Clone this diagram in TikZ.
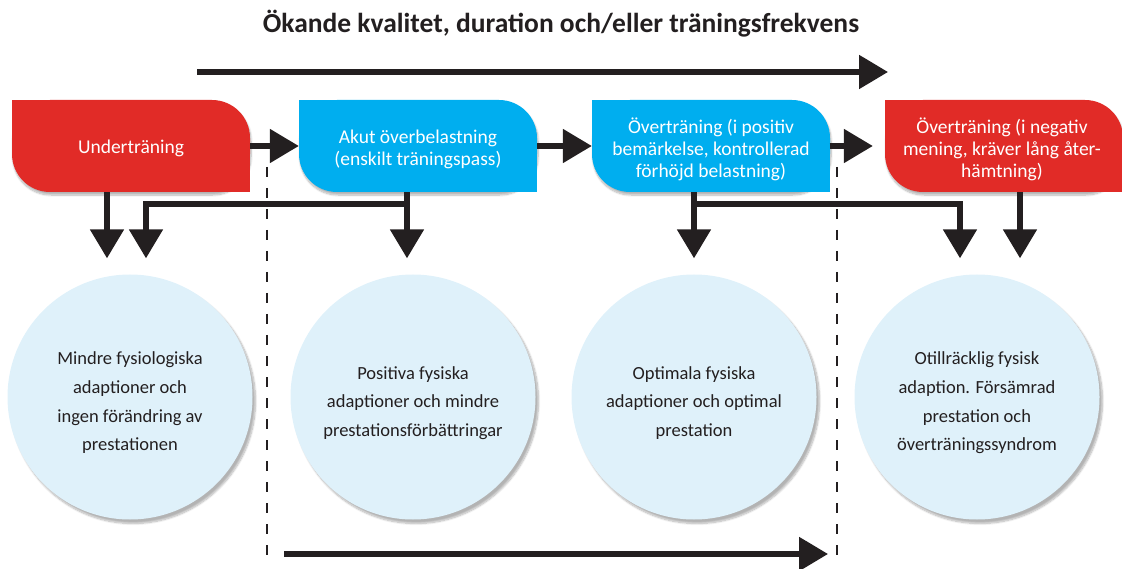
\documentclass[tikz,border=0pt]{standalone}
\usepackage{fontspec}
\setmainfont{Carlito}
\usetikzlibrary{arrows.meta}
\usetikzlibrary{shadows.blur}
\definecolor{stagered}{HTML}{E12B27}
\definecolor{stageblue}{HTML}{00AEEF}
\definecolor{resultfill}{HTML}{DFF1FA}
\definecolor{ink}{HTML}{231F20}
\tikzset{
	edge/.style={-{Triangle[length=29pt, width=33pt]}, line width=5.3pt, draw=ink}
}
\tikzset{
	%	stage boxes: rounded top right and bottom left
	stagebox/.style={rectangle, minimum width=238pt, minimum height=92pt, inner sep=0pt, rounded corners=38pt,
		blur shadow={shadow xshift=1pt, shadow yshift=-3pt, shadow blur steps=8, shadow opacity=30}},
	stagetext/.style={text=white, align=center, font=\fontsize{19.5}{22}\selectfont},
	result/.style={circle, minimum size=245pt, inner sep=0pt, fill=resultfill,
		blur shadow={shadow xshift=3pt, shadow yshift=-4pt, shadow blur steps=8, shadow opacity=30}},
	resulttext/.style={text=ink, align=center, font=\fontsize{18.5}{28.7}\selectfont},
	phase/.style={draw=ink, line width=2.6pt, dash pattern=on 10pt off 11pt}
}

\begin{document}
\begin{tikzpicture}[x=1pt, y=-1pt]
\useasboundingbox (0,0) rectangle (1122,569);

\node[font=\bfseries\fontsize{27.5}{30}\selectfont, text=ink, anchor=base] (title) at (561,33) {Ökande kvalitet, duration och/eller träningsfrekvens};
\coordinate (topstart) at (197,72);
\coordinate (topend) at (888,72);
\draw[edge] (topstart) -- (topend);

% boxes
\node[stagebox, fill=stagered] (under) at (131,146) {};
\fill[stagered] (under.north west) rectangle (under.center);
\fill[stagered] (under.center) rectangle (under.south east);
\node[stagetext] (underT) at (131,148) {Underträning};

\node[stagebox, fill=stageblue] (akut) at (418,146) {};
\fill[stageblue] (akut.north west) rectangle (akut.center);
\fill[stageblue] (akut.center) rectangle (akut.south east);
\node[stagetext] (akutT) at (418,149) {Akut överbelastning\\(enskilt träningspass)};

\node[stagebox, fill=stageblue] (pos) at (711,146) {};
\fill[stageblue] (pos.north west) rectangle (pos.center);
\fill[stageblue] (pos.center) rectangle (pos.south east);
\node[stagetext] (posT) at (711,149) {Överträning (i positiv\\bemärkelse, kontrollerad\\förhöjd belastning)};

\node[stagebox, fill=stagered] (neg) at (1004,146) {};
\fill[stagered] (neg.north west) rectangle (neg.center);
\fill[stagered] (neg.center) rectangle (neg.south east);
\node[stagetext] (negT) at (1002,149) {Överträning (i negativ\\mening, kräver lång åter-\\hämtning)};

% outcomes
\node[result] (mindre) at (130,397) {};
\node[resulttext] (mindreT) at (130,403) {Mindre fysiologiska\\adaptioner och\\ingen förändring av\\prestationen};
\node[result] (positiva) at (413,397) {};
\node[resulttext] (positivaT) at (413,403) {Positiva fysiska\\adaptioner och mindre\\prestationsförbättringar};
\node[result] (optimala) at (694,397) {};
\node[resulttext] (optimalaT) at (694,403) {Optimala fysiska\\adaptioner och optimal\\prestation};
\node[result] (otill) at (977,397) {};
\node[resulttext] (otillT) at (977,403) {Otillräcklig fysisk\\adaption. Försämrad\\prestation och\\överträningssyndrom};

% phase borders
\coordinate (line1top) at (267,167);
\coordinate (line1bot) at (267,560);
\coordinate (line2top) at (837,167);
\coordinate (line2bot) at (837,560);
\draw[phase] (line1top) -- (line1bot);
\draw[phase] (line2top) -- (line2bot);

\coordinate (botstart) at (284,554);
\coordinate (botend) at (828,554);
\draw[edge] (botstart) -- (botend);

% stage to stage
\draw[edge] (under.east) -- (akut.west);
\draw[edge] (akut.east) -- (pos.west);
\draw[edge] ([xshift=-0.5pt]pos.east) -- ([xshift=-12pt]neg.west);

% stage to outcome
\coordinate (fork2) at (407,204);
\coordinate (fork3) at (694,204);
\draw[edge] ([xshift=-24pt]under.south) -- ([xshift=-23pt, yshift=16pt]mindre.north);
\draw[edge] ([xshift=-11pt]akut.south) -- ([xshift=-6pt, yshift=16pt]positiva.north);
\draw[edge] (fork2) -| ([xshift=16pt, yshift=16pt]mindre.north);
\draw[edge] ([xshift=-17pt]pos.south) -- ([yshift=16pt]optimala.north);
\draw[edge] (fork3) -| ([xshift=-17pt, yshift=16pt]otill.north);
\draw[edge] ([xshift=16pt]neg.south) -- ([xshift=43pt, yshift=16pt]otill.north);
\end{tikzpicture}
\end{document}
